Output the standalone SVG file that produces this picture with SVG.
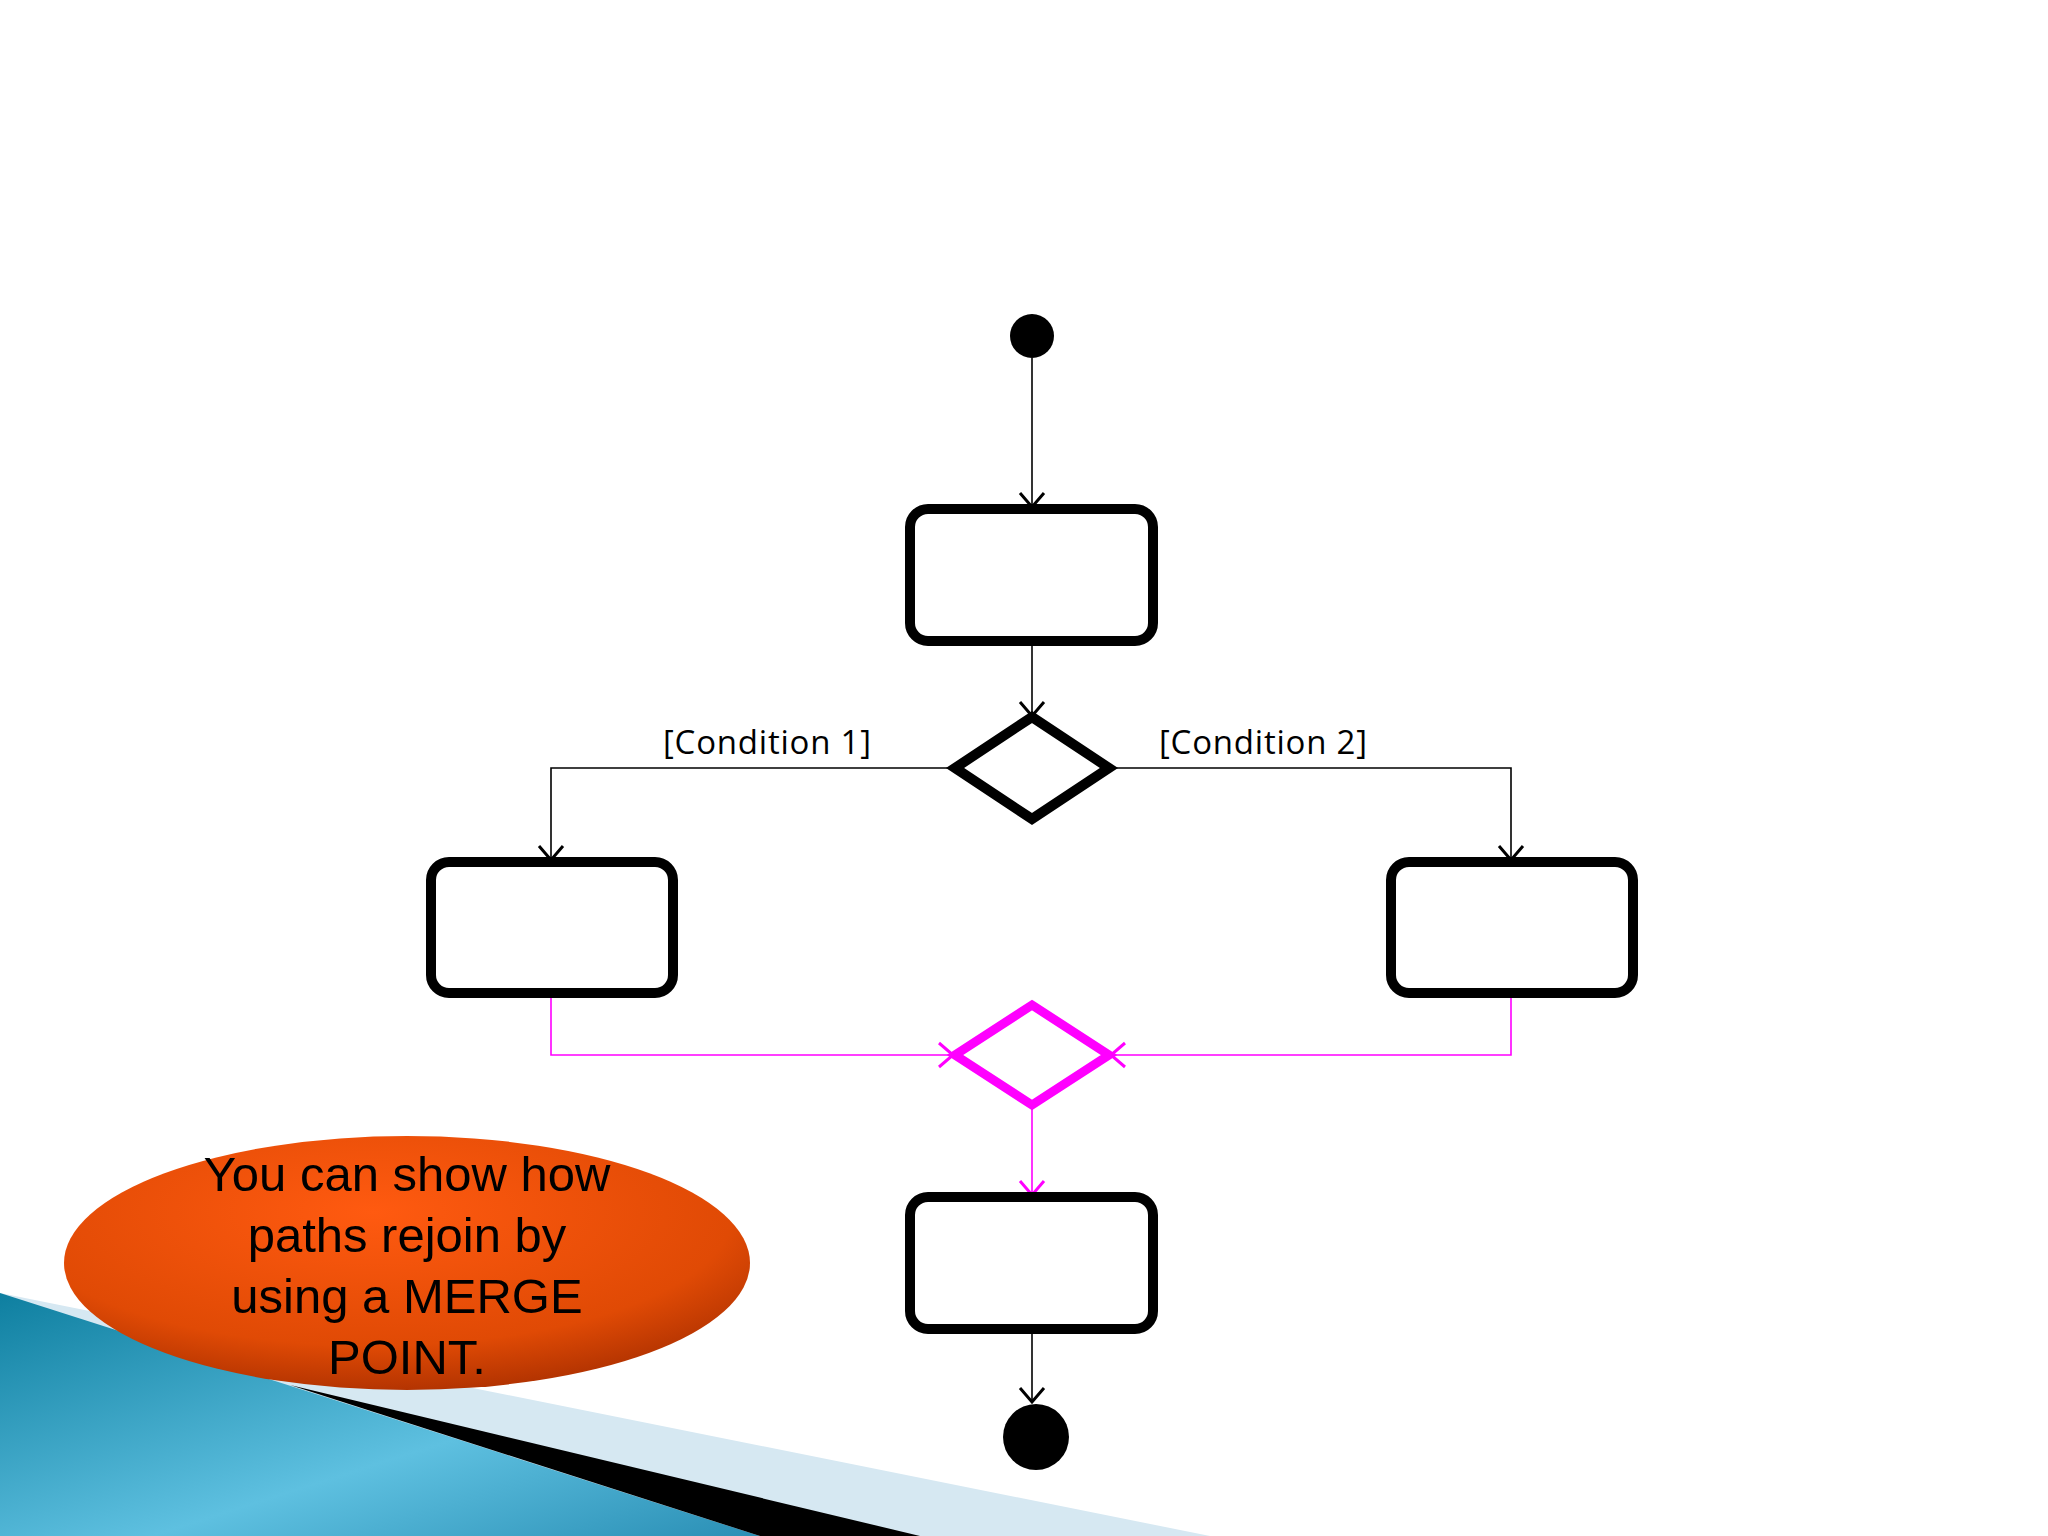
<svg xmlns="http://www.w3.org/2000/svg" width="2048" height="1536" viewBox="0 0 2048 1536">
<defs>
<linearGradient id="bl" x1="0" y1="0" x2="1" y2="1"><stop offset="0" stop-color="#0e7fa0"/><stop offset="0.6" stop-color="#5ec0e0"/><stop offset="1" stop-color="#2a8fb5"/></linearGradient>
<radialGradient id="or" cx="0.45" cy="0.3" r="0.75"><stop offset="0" stop-color="#ff5a10"/><stop offset="0.7" stop-color="#e04a05"/><stop offset="1" stop-color="#a82e00"/></radialGradient>
<marker id="ak" markerWidth="30" markerHeight="30" refX="16" refY="15" orient="auto" markerUnits="userSpaceOnUse"><path d="M2,3 L16,15 L2,27" fill="none" stroke="#000" stroke-width="3"/></marker>
<marker id="am" markerWidth="30" markerHeight="30" refX="16" refY="15" orient="auto" markerUnits="userSpaceOnUse"><path d="M2,3 L16,15 L2,27" fill="none" stroke="#f0f" stroke-width="3"/></marker>
<style>.n{fill:#fff;stroke:#000;stroke-width:10}.c{fill:none;stroke:#000;stroke-width:1.6;marker-end:url(#ak)}.m{fill:none;stroke:#f0f;stroke-width:1.6;marker-end:url(#am)}.l{font-family:"Open Sans","Liberation Sans",sans-serif;font-size:33px}.t{font-family:"Liberation Sans",Arial,sans-serif;font-size:49px;text-anchor:middle}</style>
</defs>
<rect width="2048" height="1536" fill="#fff"/>
<polygon points="0,1293 1210,1536 0,1536" fill="#d6e8f2"/>
<polygon points="0,1293 760,1536 0,1536" fill="url(#bl)"/>
<polygon points="290,1385 920,1536 760,1536" fill="#000"/>
<g id="connectors">
<path class="c" d="M1032,358 V507"/>
<path class="c" d="M1032,641 V716"/>
<path class="c" d="M955,768 H551 V860"/>
<path class="c" d="M1109,768 H1511 V860"/>
<path class="m" d="M551,993 V1055 H953"/>
<path class="m" d="M1511,993 V1055 H1111"/>
<path class="m" d="M1032,1105 V1195"/>
<path class="c" d="M1032,1329 V1402"/>
</g>
<g id="start"><circle cx="1032" cy="336" r="22" fill="#000"/></g>
<g id="box1"><rect class="n" x="910" y="509" width="243" height="132" rx="18"/></g>
<g id="decision"><polygon points="1032,717 1109,768 1032,819 955,768" class="n" stroke-width="8"/></g>
<g id="cond1"><text class="l" x="663" y="754" textLength="208">[Condition 1]</text></g>
<g id="cond2"><text class="l" x="1159" y="754" textLength="208">[Condition 2]</text></g>
<g id="box2"><rect class="n" x="431" y="862" width="242" height="131" rx="18"/></g>
<g id="box3"><rect class="n" x="1391" y="862" width="242" height="131" rx="18"/></g>
<g id="merge"><polygon points="1032,1005 1109,1055 1032,1105 955,1055" fill="#fff" stroke="#f0f" stroke-width="9"/></g>
<g id="box4"><rect class="n" x="910" y="1197" width="243" height="132" rx="18"/></g>
<g id="end"><circle cx="1036" cy="1437" r="33" fill="#000"/></g>
<g id="note"><ellipse cx="407" cy="1263" rx="343" ry="127" fill="url(#or)"/>
<text class="t" x="407" y="1191">You can show how</text>
<text class="t" x="407" y="1252">paths rejoin by</text>
<text class="t" x="407" y="1313">using a MERGE</text>
<text class="t" x="407" y="1374">POINT.</text></g>
</svg>
